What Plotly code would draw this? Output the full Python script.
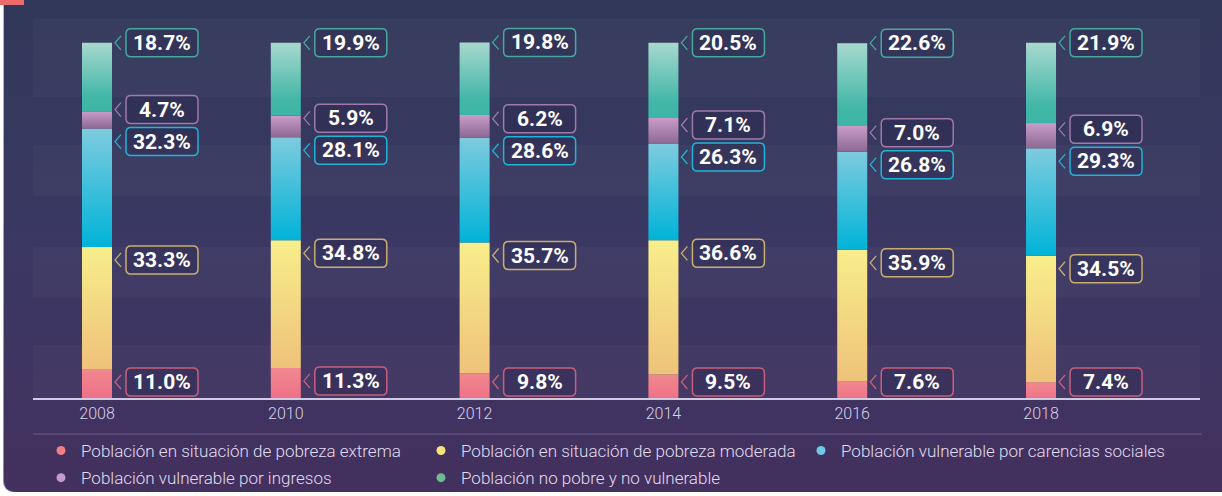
import base64
import plotly.graph_objects as go

# ---------------- data ----------------
years = ["2008", "2010", "2012", "2014", "2016", "2018"]
series_names = [
    "Población en situación de pobreza extrema",
    "Población en situación de pobreza moderada",
    "Población vulnerable por carencias sociales",
    "Población vulnerable por ingresos",
    "Población no pobre y no vulnerable",
]
pobreza_extrema = [11.0, 11.3, 9.8, 9.5, 7.6, 7.4]
pobreza_moderada = [33.3, 34.8, 35.7, 36.6, 35.9, 34.5]
vulnerable_carencias = [32.3, 28.1, 28.6, 26.3, 26.8, 29.3]
vulnerable_ingresos = [4.7, 5.9, 6.2, 7.1, 7.0, 6.9]
no_pobre_no_vulnerable = [18.7, 19.9, 19.8, 20.5, 22.6, 21.9]
series_values = [pobreza_extrema, pobreza_moderada, vulnerable_carencias,
                 vulnerable_ingresos, no_pobre_no_vulnerable]

# ---------------- style ----------------
W, H = 1222, 496
M_L, M_R, M_T, M_B = 33, 22, 19, 98
PLOT_W = W - M_L - M_R
PLOT_H = H - M_T - M_B
X_RANGE = [-0.339, 5.842]
Y_RANGE = [3.08, 106.5]
PX_X = PLOT_W / (X_RANGE[1] - X_RANGE[0])
PX_Y = PLOT_H / (Y_RANGE[1] - Y_RANGE[0])
BAR_W_PX = 30
HALF = BAR_W_PX / 2 / PX_X

# gradient (bottom, top) per series
grad = [
    [[0, "#ed6784"], [1, "#f1888f"]],
    [[0, "#eec27a"], [1, "#f8ee8b"]],
    [[0, "#00b3d8"], [1, "#7ecbde"]],
    [[0, "#8b6993"], [1, "#ca9cca"]],
    [[0, "#3db5a5"], [0.22, "#42b7a8"], [1, "#a8d8ce"]],
]
legend_colors = ["#f07e84", "#f6e37c", "#6ecae2", "#c39bca", "#6fba8e"]
box_colors = ["#c85f7a", "#c9ae6e", "#1fb4d6", "#9f79a9", "#45a99e"]
LABEL_OFFSET_PX = [13, 13, 13, 13, 0]
LABEL_GAP_PX = 32
LABEL_MIN_PX = 16  # keep label box above the baseline
BOX_W, BOX_H, BOX_R = 72, 28, 5
BOX_LEFT = BAR_W_PX / 2 + 14
TEXT_COLOR = "#e2ddef"

fig = go.Figure()

# ---------------- bars (gradient-filled rectangles on the data axes) ----------------
cum = [0.0] * len(years)
tops = []
for k, vals in enumerate(series_values):
    seg_tops = []
    for i, v in enumerate(vals):
        base = cum[i]
        top = base + v
        fig.add_trace(go.Scatter(
            x=[i - HALF, i + HALF, i + HALF, i - HALF, i - HALF],
            y=[base, base, top, top, base],
            mode="lines", line=dict(width=0), fill="toself",
            fillgradient=dict(type="vertical", colorscale=grad[k]),
            name=series_names[k], legendgroup=series_names[k], showlegend=False,
            hoverinfo="text", text=f"{years[i]} · {series_names[k]}: {v:.1f}%",
            hoveron="fills",
        ))
        cum[i] = top
        seg_tops.append(top)
    tops.append(seg_tops)

# legend entries
for k, name in enumerate(series_names):
    fig.add_trace(go.Scatter(
        x=[None], y=[None], mode="markers", name=name, legendgroup=name,
        marker=dict(size=9, color=legend_colors[k]), showlegend=True,
    ))

# ---------------- value labels ----------------
shapes = []
annotations = []


def rounded_rect(x0, x1, y0, y1, r):
    return (f"M {x0+r},{y0} L {x1-r},{y0} Q {x1},{y0} {x1},{y0+r} "
            f"L {x1},{y1-r} Q {x1},{y1} {x1-r},{y1} L {x0+r},{y1} "
            f"Q {x0},{y1} {x0},{y1-r} L {x0},{y0+r} Q {x0},{y0} {x0+r},{y0} Z")


for i in range(len(years)):
    prev = None
    for k, vals in enumerate(series_values):
        ly = tops[k][i] - LABEL_OFFSET_PX[k] / PX_Y
        ly = max(ly, Y_RANGE[0] + LABEL_MIN_PX / PX_Y)
        if prev is not None:
            ly = max(ly, prev + LABEL_GAP_PX / PX_Y)
        prev = ly
        shapes.append(dict(
            type="path", xref="x", yref="y", xsizemode="pixel", ysizemode="pixel",
            xanchor=i, yanchor=ly,
            path=rounded_rect(BOX_LEFT, BOX_LEFT + BOX_W, -BOX_H / 2, BOX_H / 2, BOX_R),
            line=dict(color=box_colors[k], width=1.5),
            fillcolor="rgba(40,38,78,0.35)", layer="above",
        ))
        shapes.append(dict(
            type="path", xref="x", yref="y", xsizemode="pixel", ysizemode="pixel",
            xanchor=i, yanchor=ly,
            path=f"M {BAR_W_PX/2+9},7 L {BAR_W_PX/2+3},0 L {BAR_W_PX/2+9},-7",
            line=dict(color=box_colors[k], width=1.3),
            fillcolor="rgba(0,0,0,0)", layer="above",
        ))
        annotations.append(dict(
            x=i, y=ly, xref="x", yref="y", xshift=BOX_LEFT + BOX_W / 2, yshift=0,
            text=f"<b>{vals[i]:.1f}%</b>", showarrow=False,
            xanchor="center", yanchor="middle",
            font=dict(family="Roboto", size=21, color="#ffffff"),
        ))

# ---------------- background bands ----------------
LIGHT_BANDS_PX = [(345, 398), (247, 298), (145, 196), (19, 97)]
for top_px, bot_px in LIGHT_BANDS_PX:
    shapes.append(dict(
        type="rect", xref="paper", yref="paper", x0=0, x1=1,
        y0=(H - M_B - bot_px) / PLOT_H, y1=(H - M_B - top_px) / PLOT_H,
        fillcolor="rgba(255,255,255,0.028)", line=dict(width=0), layer="below",
    ))

SEP_PX = 434
shapes.append(dict(
    type="line", xref="paper", yref="paper", x0=0, x1=(1202 - M_L) / PLOT_W,
    y0=(H - M_B - SEP_PX) / PLOT_H, y1=(H - M_B - SEP_PX) / PLOT_H,
    line=dict(color="#6b5d8c", width=1.2), layer="below",
))

svg = f'''<svg xmlns="http://www.w3.org/2000/svg" width="{W}" height="{H}" viewBox="0 0 {W} {H}" preserveAspectRatio="none">
<defs>
<linearGradient id="g" x1="0" y1="0" x2="0" y2="1">
<stop offset="0" stop-color="#32385a"/>
<stop offset="0.5" stop-color="#3b3863"/>
<stop offset="1" stop-color="#43305f"/>
</linearGradient>
<linearGradient id="e" x1="0" y1="0" x2="0" y2="1">
<stop offset="0" stop-color="#b9b8c8"/>
<stop offset="1" stop-color="#8d86a6"/>
</linearGradient>
</defs>
<rect width="{W}" height="{H}" fill="#ffffff"/>
<path d="M3,0 H{W} V492 H15 Q3,492 3,480 Z" fill="url(#e)"/>
<path d="M4,0 H{W} V492 H16 Q4,492 4,480 Z" fill="url(#g)"/>
<rect x="0" y="0" width="24" height="5" fill="#ee6b6b"/>
</svg>'''
src = "data:image/svg+xml;base64," + base64.b64encode(svg.encode("utf-8")).decode("ascii")

fig.update_layout(
    width=W, height=H,
    margin=dict(l=M_L, r=M_R, t=M_T, b=M_B, pad=0, autoexpand=False),
    paper_bgcolor="#ffffff", plot_bgcolor="rgba(0,0,0,0)",
    images=[dict(source=src, xref="paper", yref="paper",
                 x=-M_L / PLOT_W, y=1 + M_T / PLOT_H,
                 sizex=W / PLOT_W, sizey=H / PLOT_H,
                 xanchor="left", yanchor="top", sizing="stretch", layer="below")],
    xaxis=dict(range=X_RANGE, tickvals=list(range(len(years))), ticktext=years,
               showgrid=False, zeroline=False, showline=True, linecolor="#cfcbe2",
               linewidth=2, ticks="", fixedrange=True,
               tickfont=dict(family="Roboto", size=16, color="#d6d1e8", weight=300)),
    yaxis=dict(range=Y_RANGE, visible=False, fixedrange=True),
    showlegend=True,
    legend=dict(orientation="h", x=(81 - 40 - M_L) / PLOT_W, xanchor="left",
                yref="container", y=1 - 433 / H, yanchor="top",
                entrywidth=335, entrywidthmode="pixels", tracegroupgap=2,
                bgcolor="rgba(0,0,0,0)", borderwidth=0,
                font=dict(family="Roboto", size=17, color=TEXT_COLOR, weight=300)),
    shapes=shapes, annotations=annotations,
    hovermode="closest",
)

fig.write_html("out.html", config={"displayModeBar": False},
               post_script="document.body.style.margin='0';")
